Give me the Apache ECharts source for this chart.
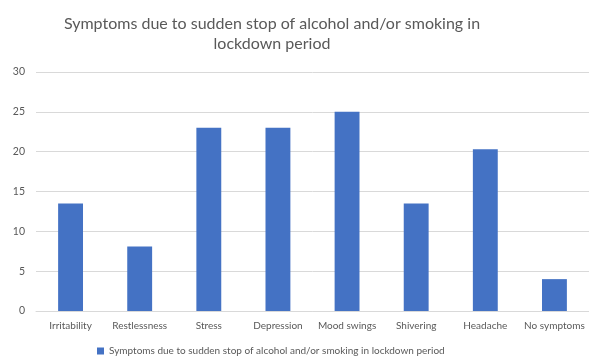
<!DOCTYPE html>
<html>
<head>
<meta charset="utf-8">
<script src="https://cdn.jsdelivr.net/npm/echarts@6/dist/echarts.min.js"></script>
<style>
  html, body { margin: 0; padding: 0; background: #fff; }
  #chart { width: 589px; height: 358px; }
</style>
</head>
<body>
<div id="chart"></div>
<script>
const categories = ['Irritability', 'Restlessness', 'Stress', 'Depression', 'Mood swings', 'Shivering', 'Headache', 'No symptoms']
const values = [13.5, 8.1, 23, 23, 25, 13.5, 20.3, 4]
const seriesName = 'Symptoms due to sudden stop of alcohol and/or smoking in lockdown period'
const titleText = 'Symptoms due to sudden stop of alcohol and/or smoking in\nlockdown period'

const font = 'Lato'
const textColor = '#595959'

const myChart = echarts.init(document.getElementById('chart'))

myChart.setOption({
  animation: false,
  title: {
    text: titleText,
    left: 267,
    top: 9,
    textAlign: 'center',
    textStyle: {
      fontFamily: font,
      fontSize: 16,
      fontWeight: 'normal',
      color: textColor,
      lineHeight: 20
    }
  },
  legend: {
    left: 97,
    top: 346,
    padding: 0,
    itemWidth: 7,
    itemHeight: 7,
    itemGap: 4,
    icon: 'rect',
    textStyle: {
      fontFamily: font,
      fontSize: 10,
      color: textColor
    }
  },
  grid: {
    left: 36,
    top: 72,
    width: 555,
    height: 239
  },
  xAxis: {
    type: 'category',
    data: categories,
    axisTick: { show: false },
    axisLine: { lineStyle: { color: '#D9D9D9', width: 1 } },
    axisLabel: {
      interval: 0,
      margin: 10,
      fontFamily: font,
      fontSize: 10,
      color: textColor
    }
  },
  yAxis: {
    type: 'value',
    min: 0,
    max: 30,
    interval: 5,
    axisLine: { show: false },
    axisTick: { show: false },
    splitLine: { lineStyle: { color: '#D9D9D9', width: 1 } },
    axisLabel: {
      margin: 11,
      fontFamily: font,
      fontSize: 10.5,
      color: textColor
    }
  },
  series: [
    {
      name: seriesName,
      type: 'bar',
      data: values,
      barWidth: '36%',
      itemStyle: { color: '#4472C4' }
    }
  ]
})
</script>
</body>
</html>
